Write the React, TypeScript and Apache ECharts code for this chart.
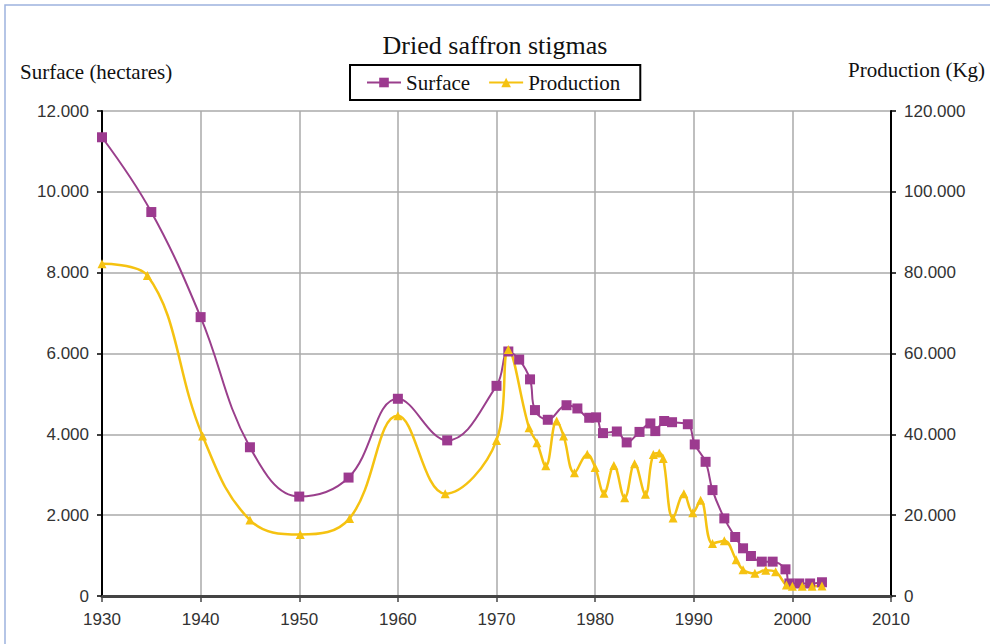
import React, { useEffect, useRef } from 'react';
import * as echarts from 'echarts';

const SERIF = "'Liberation Serif', 'Times New Roman', serif";
const SANS = "'Liberation Sans', Arial, sans-serif";

const xTicks = { min: 1930, max: 2010, step: 10 };
const leftTicks = { min: 0, max: 12000, step: 2000 };
const rightTicks = { min: 0, max: 120000, step: 20000 };

const surfaceYears = [
  1930, 1935, 1940, 1945, 1950, 1955, 1960, 1965, 1970, 1971.2, 1972.3, 1973.4, 1973.9,
  1975.2, 1977.1, 1978.2, 1979.4, 1980.1, 1980.8, 1982.2, 1983.2, 1984.5, 1985.6, 1986.1,
  1987.0, 1987.8, 1989.4, 1990.1, 1991.2, 1991.9, 1993.1, 1994.2, 1995.0, 1995.8, 1996.9,
  1998.0, 1999.3, 1999.7, 2000.7, 2001.8, 2003.0,
];
const surfaceHectares = [
  11350, 9500, 6900, 3680, 2460, 2930, 4880, 3850, 5200, 6050, 5850, 5360, 4600,
  4360, 4720, 4640, 4410, 4420, 4030, 4070, 3800, 4060, 4270, 4080,
  4330, 4300, 4250, 3750, 3320, 2620, 1920, 1460, 1180, 990, 850,
  850, 660, 310, 310, 310, 340,
];

const productionYears = [
  1930, 1934.6, 1940.2, 1945, 1950.1, 1955.1, 1960, 1964.8, 1970, 1971.2, 1973.3, 1974.1,
  1975, 1976.1, 1976.8, 1977.9, 1979.2, 1980, 1980.9, 1981.9, 1983, 1984, 1985.1, 1985.9,
  1986.5, 1986.9, 1987.9, 1989, 1989.9, 1990.7, 1991.9, 1993.1, 1994.3, 1995, 1996.2,
  1997.3, 1998.3, 1999.4, 2000, 2001, 2002, 2003,
];
const productionKg = [
  82200, 79300, 39600, 18800, 15200, 19200, 44600, 25300, 38500, 61000, 41600, 37900,
  32200, 43300, 39600, 30500, 35100, 31800, 25400, 32300, 24300, 32700, 25200, 35000,
  35400, 34000, 19300, 25300, 20600, 23700, 13000, 13700, 9000, 6500, 5600,
  6400, 6000, 2700, 2400, 2400, 2400, 2500,
];

const fmt = (v: number) => String(v).replace(/\B(?=(\d{3})+(?!\d))/g, '.');

export default function App() {
  const ref = useRef<HTMLDivElement>(null);
  useEffect(() => {
    if (!ref.current) return;
    const chart = echarts.init(ref.current, null, { renderer: 'svg' });
    chart.setOption({
      animation: false,
      backgroundColor: '#ffffff',
      title: {
        text: 'Dried saffron stigmas',
        left: 'center',
        top: 32,
        padding: 0,
        textStyle: { fontFamily: SERIF, fontSize: 26, fontWeight: 'normal', color: '#111' },
      },
      legend: {
        left: 350,
        top: 65,
        orient: 'horizontal',
        padding: [7, 20, 7, 16],
        borderColor: '#000',
        borderWidth: 2,
        backgroundColor: '#fff',
        itemWidth: 34,
        itemHeight: 12,
        itemGap: 18,
        textStyle: { fontFamily: SERIF, fontSize: 21, color: '#111' },
        data: ['Surface', 'Production'],
      },
      grid: { left: 102, right: 99, top: 111, bottom: 48 },
      xAxis: {
        type: 'value',
        min: xTicks.min,
        max: xTicks.max,
        interval: xTicks.step,
        axisLine: { show: true, lineStyle: { color: '#444', width: 3 } },
        axisTick: { show: true, length: 6, lineStyle: { color: '#444', width: 1.5 } },
        axisLabel: { margin: 15, fontSize: 17, color: '#333', fontFamily: SANS, formatter: (v: number) => String(v) },
        splitLine: { show: true, lineStyle: { color: '#aaa', width: 1.5 } },
      },
      yAxis: [
        {
          type: 'value',
          position: 'left',
          min: leftTicks.min,
          max: leftTicks.max,
          interval: leftTicks.step,
          axisLine: { show: true, lineStyle: { color: '#000', width: 2 } },
          axisTick: { show: true, length: 5, lineStyle: { color: '#000', width: 1.5 } },
          axisLabel: { margin: 13, fontSize: 17, color: '#333', fontFamily: SANS, formatter: fmt },
          splitLine: { show: true, lineStyle: { color: '#aaa', width: 1.5 } },
        },
        {
          type: 'value',
          position: 'right',
          min: rightTicks.min,
          max: rightTicks.max,
          interval: rightTicks.step,
          axisLine: { show: true, lineStyle: { color: '#000', width: 2 } },
          axisTick: { show: true, length: 5, lineStyle: { color: '#000', width: 1.5 } },
          axisLabel: { margin: 13, fontSize: 17, color: '#333', fontFamily: SANS, formatter: fmt },
          splitLine: { show: false },
        },
      ],
      series: [
        {
          name: 'Surface',
          type: 'line',
          yAxisIndex: 0,
          smooth: 0.4,
          symbol: 'rect',
          symbolSize: 10,
          color: '#9C3A8F',
          lineStyle: { color: '#9A3F8C', width: 2 },
          itemStyle: { color: '#9C3A8F' },
          data: surfaceYears.map((y, i) => [y, surfaceHectares[i]]),
        },
        {
          name: 'Production',
          type: 'line',
          yAxisIndex: 1,
          smooth: 0.4,
          symbol: 'triangle',
          symbolSize: 9,
          color: '#F5C211',
          lineStyle: { color: '#F5C211', width: 2.5 },
          itemStyle: { color: '#F5C211' },
          data: productionYears.map((y, i) => [y, productionKg[i]]),
        },
      ],
      graphic: [
        {
          type: 'rect',
          silent: true,
          shape: { x: 5, y: 5, width: 1200, height: 1000 },
          style: { fill: 'none', stroke: '#9db3de', lineWidth: 1.5 },
        },
        {
          type: 'text',
          left: 20,
          top: 61,
          style: { text: 'Surface (hectares)', fontFamily: SERIF, fontSize: 21, fill: '#111' },
        },
        {
          type: 'text',
          left: 848,
          top: 59,
          style: { text: 'Production (Kg)', fontFamily: SERIF, fontSize: 21, fill: '#111' },
        },
      ],
    });
    return () => chart.dispose();
  }, []);
  return <div ref={ref} style={{ position: 'absolute', left: 0, top: 0, width: 990, height: 644 }} />;
}
